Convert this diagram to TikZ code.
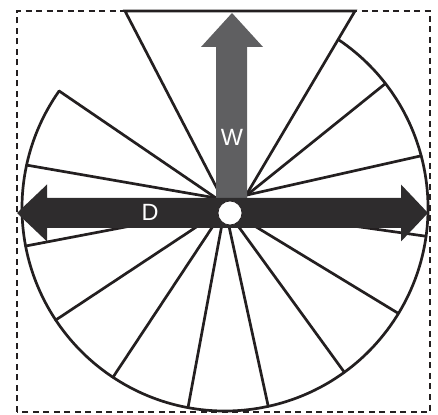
\documentclass[tikz,border=0pt]{standalone}
\usepackage{fontspec}
\setsansfont{Liberation Sans}
\definecolor{ink}{HTML}{231F20}
\definecolor{darkband}{HTML}{2E2C2D}
\definecolor{warrow}{HTML}{5F5F61}
\begin{document}
\begin{tikzpicture}[x=1pt,y=1pt,
  spoke/.style={draw=ink, line width=2.7pt, line cap=round, line join=miter},
  frame/.style={draw=ink, line width=2.2pt, dash pattern=on 6pt off 4.5pt},
  lab/.style={text=white, font=\sffamily\fontsize{23.5}{24}\selectfont, inner sep=0pt}]
\useasboundingbox (0,0) rectangle (438,414);
\coordinate (c) at (225,206);
\coordinate (ul) at (216,216);
\coordinate (ur) at (247,219);
\coordinate (tl) at (125,403);
\coordinate (tr) at (355,403);
\coordinate (tlend) at (222,216);
\coordinate (trend) at (248,222);
% dashed frame
\draw[frame] (17,2) rectangle (430,403);
% outer arc
\draw[spoke] (c) ++(56:203) arc[start angle=56, end angle=-215.2, radius=203];
% spokes
\foreach \a in {144.8,167.8} \draw[spoke] (c) ++(\a:203) -- (ul);
\foreach \a in {14.9,37.8} \draw[spoke] (c) ++(\a:203) -- (ur);
\foreach \a in {190.8,213.5,236.5,259.5,282.3,306,328.7,352} \draw[spoke] (c) ++(\a:203) -- (c);
% top wedge
\draw[spoke] (tlend) -- (tl) -- (tr) -- (trend);
% W arrow
\fill[warrow] (216,216) -- (216,367) -- (201,367) -- (232,401) -- (263,367) -- (247,367) -- (247,216) -- cycle;
% D arrow
\fill[darkband] (17,201) -- (47,229.5) -- (47,216) -- (401,216) -- (401,229.5) -- (428,201)
  -- (401,172.5) -- (401,186) -- (47,186) -- (47,172.5) -- cycle;
% hub
\node[circle, fill=white, draw=ink, line width=0.7pt, minimum size=24pt, inner sep=0pt] (hub) at (230,201) {};
% labels
\node[lab] (wlab) at (232,277) {W};
\node[lab] (dlab) at (150,202) {D};
\end{tikzpicture}
\end{document}
